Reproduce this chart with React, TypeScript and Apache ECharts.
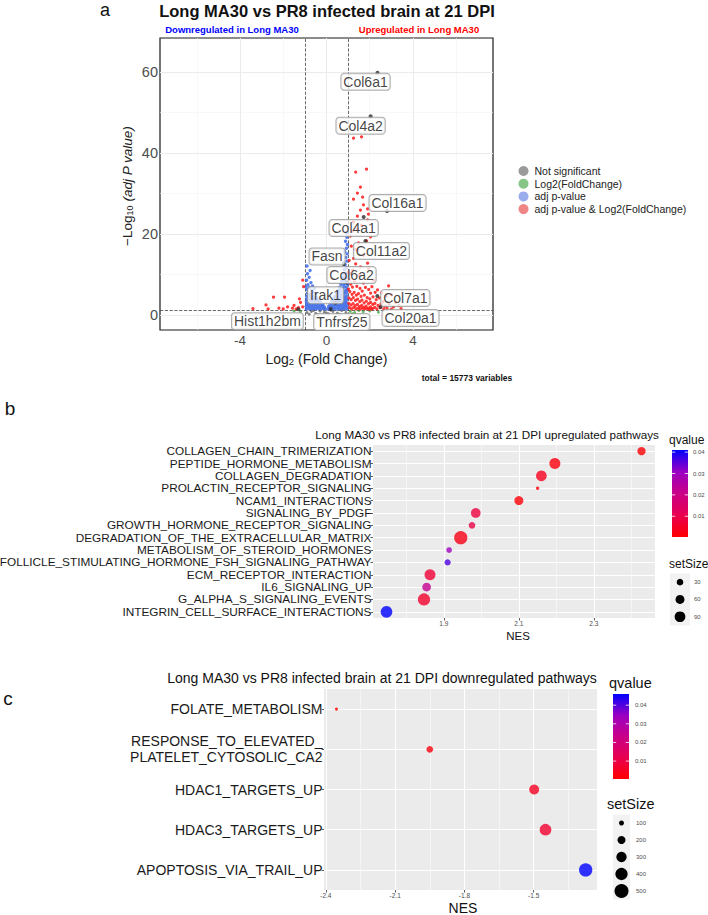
import React, { useEffect, useRef } from 'react';
import * as echarts from 'echarts';

const FONT = '"Liberation Sans", Arial, Helvetica, sans-serif';

/* ---------------- a: volcano plot ---------------- */
const volcanoTitle = 'Long MA30 vs PR8 infected brain at 21 DPI';
const downText = 'Downregulated in Long MA30';
const upText = 'Upregulated in Long MA30';
const volcanoXTicks = [-4, 0, 4];
const volcanoXMinor = [-6, -2, 2, 6];
const volcanoYTicks = [0, 20, 40, 60];
const volcanoYMinor = [10, 30, 50];
const fcCutoff = 1;
const pCutoff = 0.05;
const totalVariables = 15773;

const groupNames = ['Not significant', 'Log2(FoldChange)', 'adj p-value', 'adj p-value & Log2(FoldChange)'];

// [log2 fold change, -log10 adj p]
const notSignificant = [
  [-0.9, 0.6], [-0.7, 0.9], [-0.5, 0.4], [-0.3, 1.0], [-0.1, 0.7], [0.1, 0.3], [0.3, 0.9], [0.5, 0.5],
  [0.7, 1.1], [0.9, 0.6], [-0.8, 0.2], [0.2, 1.2], [0.6, 0.2], [-0.4, 0.1], [-0.6, 1.1], [0.0, 0.5],
];
const foldChangeOnly = [
  [1.1, 0.9], [1.3, 0.6], [1.5, 1.1], [1.7, 0.8], [2.0, 1.0], [1.2, 0.3], [-1.2, 0.8], [-1.5, 1.0], [2.4, 0.7],
];
const adjPOnly = [
  [-0.93, 1.5], [-0.82, 1.6], [-0.71, 1.5], [-0.6, 1.6], [-0.49, 1.5], [-0.38, 1.6], [-0.27, 1.5], [-0.16, 1.6], [-0.07, 1.5],
  [-0.94, 2.1], [-0.83, 2.2], [-0.72, 2.1], [-0.61, 2.2], [-0.5, 2.1], [-0.39, 2.2], [-0.28, 2.1], [-0.18, 2.2], [-0.1, 2.0],
  [-0.92, 2.7], [-0.81, 2.8], [-0.7, 2.7], [-0.59, 2.8], [-0.48, 2.7], [-0.37, 2.8], [-0.26, 2.7], [-0.17, 2.6],
  [-0.93, 3.3], [-0.82, 3.4], [-0.71, 3.3], [-0.6, 3.4], [-0.49, 3.3], [-0.38, 3.4], [-0.28, 3.2],
  [-0.91, 3.9], [-0.8, 4.0], [-0.69, 3.9], [-0.57, 4.0], [-0.45, 3.9], [-0.35, 3.8],
  [-0.92, 4.6], [-0.83, 4.7], [-0.72, 4.5], [-0.6, 4.6], [-0.47, 4.4],
  [-0.88, 5.4], [-0.75, 5.2], [-0.62, 5.6], [-0.84, 4.9], [-0.5, 5.3], [-0.9, 6.3], [-0.8, 6.8], [-0.68, 6.1],
  [-0.55, 6.6], [-0.95, 7.0], [-0.65, 7.2], [-0.86, 7.5], [-0.72, 8.0], [-0.92, 8.6], [-0.8, 9.3], [-0.88, 10.2],
  [-0.76, 11.0], [-0.9, 12.1],
  [0.06, 1.5], [0.15, 1.6], [0.26, 1.5], [0.37, 1.6], [0.48, 1.5], [0.59, 1.6], [0.7, 1.5], [0.81, 1.6], [0.92, 1.5],
  [0.1, 2.1], [0.2, 2.2], [0.31, 2.1], [0.42, 2.2], [0.53, 2.1], [0.64, 2.2], [0.75, 2.1], [0.86, 2.2], [0.95, 2.1],
  [0.16, 2.7], [0.27, 2.8], [0.38, 2.7], [0.49, 2.8], [0.6, 2.7], [0.71, 2.8], [0.82, 2.7], [0.93, 2.8],
  [0.24, 3.3], [0.35, 3.4], [0.46, 3.3], [0.57, 3.4], [0.68, 3.3], [0.79, 3.4], [0.9, 3.3],
  [0.3, 3.9], [0.41, 4.0], [0.52, 3.9], [0.63, 4.0], [0.74, 3.9], [0.85, 4.0], [0.95, 3.9],
  [0.38, 4.6], [0.5, 4.5], [0.62, 4.7], [0.73, 4.6], [0.84, 4.5], [0.94, 4.7],
  [0.45, 5.3], [0.58, 5.4], [0.7, 5.2], [0.81, 5.3], [0.92, 5.4],
  [0.52, 6.0], [0.64, 6.1], [0.76, 5.9], [0.87, 6.0], [0.96, 6.1],
  [0.6, 6.8], [0.72, 6.7], [0.83, 6.9], [0.93, 6.8],
  [0.66, 7.6], [0.78, 7.5], [0.88, 7.7], [0.97, 7.6],
  [0.7, 8.4], [0.81, 8.5], [0.92, 8.3],
  [0.74, 9.3], [0.85, 9.2], [0.95, 9.4],
  [0.78, 10.2], [0.88, 10.1], [0.97, 10.3],
  [0.82, 11.2], [0.93, 11.6], [0.86, 12.4], [0.95, 13.3], [0.8, 13.0], [0.9, 14.2], [0.96, 15.1],
  [0.85, 15.6], [0.92, 16.5], [0.97, 17.4], [0.88, 18.2], [0.94, 19.2], [0.91, 20.3],
];
const adjPAndFoldChange = [
  [1.25, 43.7], [1.62, 44.0], [1.85, 36.0], [1.35, 35.3], [1.57, 31.6], [1.43, 30.1], [1.67, 29.1], [1.25, 28.6],
  [1.71, 27.2], [1.9, 26.2], [1.57, 25.9], [1.94, 24.9], [1.43, 24.4], [1.25, 23.0], [1.62, 22.2], [1.9, 23.5],
  [1.43, 21.2], [1.2, 20.7], [2.04, 19.3], [1.85, 18.3], [1.48, 17.8], [1.1, 19.5], [1.15, 17.0], [1.3, 16.2],
  [1.71, 14.8], [1.43, 16.0], [1.25, 14.0], [1.9, 12.8], [1.57, 11.9], [1.94, 11.6], [1.2, 11.1], [1.05, 13.5],
  [1.35, 12.6], [1.1, 10.2], [1.5, 9.8], [2.18, 8.6], [1.71, 7.9], [2.87, 7.2], [2.36, 6.2], [2.04, 5.4],
  [1.05, 8.8], [1.12, 7.6], [1.2, 6.9], [1.3, 8.2], [1.4, 7.1], [1.55, 6.6], [1.65, 5.9], [1.8, 6.8], [1.95, 6.3],
  [2.1, 7.0], [2.25, 5.6], [1.08, 5.8], [1.18, 5.1], [1.28, 5.6], [1.38, 4.9], [1.48, 5.3], [1.6, 4.6], [1.75, 4.9],
  [1.88, 4.3], [2.0, 4.0], [2.15, 4.5], [2.3, 3.8], [2.45, 4.2], [2.6, 3.3], [1.04, 4.2], [1.14, 3.8], [1.24, 4.3],
  [1.34, 3.6], [1.44, 3.9], [1.54, 3.3], [1.64, 3.7], [1.74, 3.0], [1.84, 3.4], [1.94, 2.8], [2.04, 3.1], [2.14, 2.6],
  [2.24, 2.9], [2.38, 2.4], [2.52, 2.7], [2.7, 2.2], [2.9, 2.6], [3.1, 2.0], [3.35, 2.3], [1.03, 2.9], [1.13, 2.5],
  [1.23, 2.8], [1.33, 2.3], [1.43, 2.6], [1.53, 2.1], [1.63, 2.4], [1.73, 1.9], [1.83, 2.2], [1.93, 1.7], [2.03, 2.0],
  [2.13, 1.6], [2.23, 1.9], [2.33, 1.5], [2.48, 1.8], [2.65, 1.5], [2.8, 1.7], [3.0, 1.45], [1.06, 1.8], [1.16, 1.5],
  [1.26, 1.9], [1.36, 1.5], [1.46, 1.7], [1.56, 1.45], [1.66, 1.7], [1.76, 1.5], [1.86, 1.6], [1.98, 1.4], [2.08, 1.5],
  [3.2, 3.1], [2.75, 4.6], [3.45, 1.6], [2.55, 5.5], [1.02, 6.4], [1.0, 10.5], [3.0, 5.0],
  [-1.1, 8.6], [-1.06, 7.0], [-1.94, 4.4], [-2.45, 4.4], [-2.8, 2.5], [-2.7, 1.5], [-2.2, 1.7], [-1.8, 2.0],
  [-1.57, 1.7], [-1.1, 2.0], [-1.3, 1.8], [-1.5, 2.4], [-2.0, 1.5], [-1.2, 3.1], [-1.4, 1.5], [-3.4, 1.6], [-1.25, 4.0],
];

const geneNames = ['Col6a1', 'Col4a2', 'Col16a1', 'Col4a1', 'Col11a2', 'Fasn', 'Col6a2', 'Irak1', 'Col7a1', 'Col20a1', 'Tnfrsf25', 'Hist1h2bm'];
const geneLog2FC = [2.36, 2.04, 2.8, 1.72, 1.8, 0.79, 0.95, 0.42, 2.35, 2.5, 0.2, -1.3];
const geneNegLog10P = [59.8, 49.1, 25.7, 24.2, 18.3, 12.6, 8.0, 3.0, 4.7, 2.0, 1.5, 1.4];

/* ---------------- b: upregulated pathways ---------------- */
const upTitle = 'Long MA30 vs PR8 infected brain at 21 DPI upregulated pathways';
const upPathways = [
  'COLLAGEN_CHAIN_TRIMERIZATION', 'PEPTIDE_HORMONE_METABOLISM', 'COLLAGEN_DEGRADATION', 'PROLACTIN_RECEPTOR_SIGNALING',
  'NCAM1_INTERACTIONS', 'SIGNALING_BY_PDGF', 'GROWTH_HORMONE_RECEPTOR_SIGNALING', 'DEGRADATION_OF_THE_EXTRACELLULAR_MATRIX',
  'METABOLISM_OF_STEROID_HORMONES', 'FOLLICLE_STIMULATING_HORMONE_FSH_SIGNALING_PATHWAY', 'ECM_RECEPTOR_INTERACTION',
  'IL6_SIGNALING_UP', 'G_ALPHA_S_SIGNALING_EVENTS', 'INTEGRIN_CELL_SURFACE_INTERACTIONS',
];
const upNES = [2.427, 2.196, 2.16, 2.15, 2.1, 1.985, 1.975, 1.945, 1.914, 1.91, 1.863, 1.854, 1.847, 1.747];
const upQvalue = [0.001, 0.002, 0.004, 0.002, 0.001, 0.008, 0.009, 0.003, 0.03, 0.036, 0.007, 0.022, 0.006, 0.041];
const upSetSize = [50, 96, 90, 5, 61, 72, 30, 146, 20, 26, 96, 56, 123, 110];
const upNESTicks = [1.9, 2.1, 2.3];
const upNESMinor = [1.8, 2.0, 2.2, 2.4];
const upSizeBreaks = [30, 60, 90];

/* ---------------- c: downregulated pathways ---------------- */
const downTitle = 'Long MA30 vs PR8 infected brain at 21 DPI downregulated pathways';
const downPathways = ['FOLATE_METABOLISM', 'RESPONSE_TO_ELEVATED_PLATELET_CYTOSOLIC_CA2', 'HDAC1_TARGETS_UP', 'HDAC3_TARGETS_UP', 'APOPTOSIS_VIA_TRAIL_UP'];
const downNES = [-2.354, -1.95, -1.498, -1.449, -1.275];
const downQvalue = [0.0005, 0.002, 0.005, 0.007, 0.046];
const downSetSize = [55, 152, 284, 369, 458];
const downNESTicks = [-2.4, -2.1, -1.8, -1.5];
const downNESMinor = [-2.25, -1.95, -1.65, -1.35];
const downSizeBreaks = [100, 200, 300, 400, 500];

const qTicks = [0.01, 0.02, 0.03, 0.04];
const qColors = ['#FF0000', '#E80050', '#C90088', '#9A00C2', '#0000FF'];

/* ---------------- layout ---------------- */
const gridA = { left: 160, top: 38, width: 333, height: 292 };
const gridB = { left: 373, top: 445, width: 282, height: 173 };
const gridC = { left: 324, top: 689, width: 273, height: 201 };
const labelOffsets: Record<string, number[]> = {
  Col6a1: [-12, 9], Col4a2: [-10, 9.5], Col16a1: [10.5, -8], Col4a1: [-10, 11], Col11a2: [16, 10],
  Fasn: [-16.5, -7.5], Col6a2: [4.5, -7.5], Irak1: [-10, -7.5], Col7a1: [28, 2], Col20a1: [30, 11],
  Tnfrsf25: [11, 13], Hist1h2bm: [-31, 12],
};

const sizeUp = (s: number) => 1.2 + Math.sqrt(s);
const sizeDown = (s: number) => 0.728 * Math.sqrt(s) - 2.28;

const lineItems = (axis: string, values: number[], color: string, width: number, type = 'solid') =>
  values.map((v) => ({ [axis]: v, lineStyle: { color, width, type } }));

const markLines = (data: any[], z: number) => ({
  silent: true,
  symbol: ['none', 'none'],
  label: { show: false },
  emphasis: { disabled: true },
  animation: false,
  z,
  data,
});

function colorBar(x: number, y: number, w: number, h: number, qMin: number, qMax: number, labelX: number, fs: number) {
  const stops = qColors.map((c, i) => ({ offset: 1 - i / (qColors.length - 1), color: c }));
  const els: any[] = [
    {
      type: 'rect', shape: { x, y, width: w, height: h },
      style: { fill: new echarts.graphic.LinearGradient(0, 0, 0, 1, stops.reverse()) },
    },
  ];
  qTicks.forEach((q) => {
    const ty = y + ((qMax - q) / (qMax - qMin)) * h;
    els.push({ type: 'line', shape: { x1: x, y1: ty, x2: x + w * 0.2, y2: ty }, style: { stroke: '#fff', lineWidth: 0.8 } });
    els.push({ type: 'line', shape: { x1: x + w * 0.8, y1: ty, x2: x + w, y2: ty }, style: { stroke: '#fff', lineWidth: 0.8 } });
    els.push({
      type: 'text', x: labelX, y: ty,
      style: { text: q.toFixed(2), fontSize: fs, fontFamily: FONT, fill: '#4d4d4d', align: 'left', verticalAlign: 'middle' },
    });
  });
  return els;
}

function sizeLegend(x: number, top: number, w: number, keyH: number, breaks: number[], sizeFn: (s: number) => number, labelX: number, fs: number) {
  const els: any[] = [
    { type: 'rect', shape: { x, y: top, width: w, height: keyH * breaks.length }, style: { fill: '#F2F2F2' } },
  ];
  breaks.forEach((b, i) => {
    const cy = top + keyH * (i + 0.5);
    els.push({ type: 'circle', shape: { cx: x + w / 2, cy, r: sizeFn(b) / 2 }, style: { fill: '#000' } });
    els.push({
      type: 'text', x: labelX, y: cy,
      style: { text: String(b), fontSize: fs, fontFamily: FONT, fill: '#4d4d4d', align: 'left', verticalAlign: 'middle' },
    });
  });
  return els;
}

const txt = (x: number, y: number, text: string, extra: any = {}) => ({
  type: 'text', x, y,
  style: { text, fontFamily: FONT, fill: '#111', align: 'center', verticalAlign: 'middle', fontSize: 12, ...extra },
});

function buildOption() {
  const negLogCut = -Math.log10(pCutoff);
  const volcanoGrid = lineItems('xAxis', volcanoXTicks, '#EBEBEB', 1)
    .concat(lineItems('xAxis', volcanoXMinor, '#F4F4F4', 0.6))
    .concat(lineItems('yAxis', volcanoYTicks, '#EBEBEB', 1))
    .concat(lineItems('yAxis', volcanoYMinor, '#F4F4F4', 0.6));
  const cutoffs = lineItems('xAxis', [-fcCutoff, fcCutoff], '#444', 0.8, 'dashed')
    .concat(lineItems('yAxis', [negLogCut], '#444', 0.8, 'dashed'));

  const upGrid = lineItems('xAxis', upNESTicks, '#fff', 1)
    .concat(lineItems('xAxis', upNESMinor, '#fff', 0.5))
    .concat(lineItems('yAxis', upPathways.map((_, i) => i), '#fff', 1));
  const downGrid = lineItems('xAxis', downNESTicks, '#fff', 1)
    .concat(lineItems('xAxis', downNESMinor, '#fff', 0.5))
    .concat(lineItems('yAxis', downPathways.map((_, i) => i), '#fff', 1));

  const catAxis = (idx: number, data: string[], fs: number, lh: number, formatter?: any) => ({
    type: 'category', gridIndex: idx, data, inverse: true, boundaryGap: true,
    axisLine: { show: false },
    axisTick: { show: true, alignWithLabel: true, interval: 0, length: 2.5, lineStyle: { color: '#333', width: 0.8 } },
    axisLabel: { interval: 0, fontSize: fs, lineHeight: lh, color: '#1a1a1a', fontFamily: FONT, margin: 1.5, formatter, hideOverlap: false },
    splitLine: { show: false },
  });
  const nesAxis = (idx: number, min: number, max: number, ticks: number[]) => ({
    type: 'value', gridIndex: idx, min, max,
    axisLine: { show: false },
    axisTick: { show: true, customValues: ticks, length: 2.5, lineStyle: { color: '#333', width: 0.8 } },
    axisLabel: { customValues: ticks, fontSize: 6.5, color: '#4d4d4d', fontFamily: FONT, margin: 2, formatter: (v: number) => v.toFixed(1) },
    splitLine: { show: false },
  });

  const pointLabel = (name: string) => ({
    show: true,
    position: 'inside',
    offset: labelOffsets[name],
    formatter: name,
    fontSize: 14,
    lineHeight: 14,
    fontFamily: FONT,
    color: '#111',
    backgroundColor: 'rgba(255,255,255,0.92)',
    borderColor: '#9a9a9a',
    borderWidth: 1,
    borderRadius: 3,
    padding: [1, 2, 1, 2],
  });

  const upData = upPathways.map((p, i) => [upNES[i], i, upQvalue[i], upSetSize[i]]);
  const downData = downPathways.map((p, i) => [downNES[i], i, downQvalue[i], downSetSize[i]]);

  const graphic: any[] = [
    txt(105, 10, 'a', { fontSize: 18 }),
    txt(327, 11, volcanoTitle, { fontSize: 16.5, fontWeight: 'bold' }),
    txt(232, 29, downText, { fontSize: 9.5, fontWeight: 'bold', fill: '#0000FF' }),
    txt(419, 29, upText, { fontSize: 9.5, fontWeight: 'bold', fill: '#FF0000' }),
    {
      type: 'text', x: 127.5, y: 186, rotation: Math.PI / 2,
      style: {
        text: '{n|−Log}{s|10}{i| (adj P value)}', align: 'center', verticalAlign: 'middle', fill: '#222',
        fontFamily: FONT, fontSize: 13.5,
        rich: {
          n: { fontSize: 13.5, fontFamily: FONT, fill: '#222' },
          s: { fontSize: 9, fontFamily: FONT, fill: '#222', verticalAlign: 'bottom' },
          i: { fontSize: 13.5, fontFamily: FONT, fill: '#222', fontStyle: 'italic' },
        },
      },
    },
    {
      type: 'text', x: 326.5, y: 359,
      style: {
        text: '{n|Log}{s|2}{n| (Fold Change)}', align: 'center', verticalAlign: 'middle', fill: '#222',
        fontFamily: FONT, fontSize: 14,
        rich: {
          n: { fontSize: 14, fontFamily: FONT, fill: '#222' },
          s: { fontSize: 9.5, fontFamily: FONT, fill: '#222', verticalAlign: 'bottom' },
        },
      },
    },
    txt(467, 378, `total = ${totalVariables} variables`, { fontSize: 8.5, fontWeight: 'bold' }),

    txt(10, 408, 'b', { fontSize: 19 }),
    txt(487, 434, upTitle, { fontSize: 11.7 }),
    txt(518, 636, 'NES', { fontSize: 11.5 }),
    txt(669, 440, 'qvalue', { fontSize: 12, align: 'left' }),
    ...colorBar(672, 450, 16, 87, 0.0003, 0.041, 693, 6),
    txt(669, 564, 'setSize', { fontSize: 12, align: 'left' }),
    ...sizeLegend(670, 573.5, 20, 17.3, upSizeBreaks, sizeUp, 694, 6),

    txt(8, 698, 'c', { fontSize: 19 }),
    txt(382, 678, downTitle, { fontSize: 14 }),
    txt(463, 908, 'NES', { fontSize: 14 }),
    txt(609, 683, 'qvalue', { fontSize: 14.5, align: 'left' }),
    ...colorBar(613, 694, 16, 85, 0.0004, 0.046, 635, 6),
    txt(607, 804, 'setSize', { fontSize: 14.5, align: 'left' }),
    ...sizeLegend(613, 814.5, 17, 17, downSizeBreaks, sizeDown, 636, 6),
  ];

  const gridBase = { show: true, containLabel: false, outerBoundsMode: 'none' };

  return {
    animation: false,
    backgroundColor: '#fff',
    textStyle: { fontFamily: FONT },
    grid: [
      { ...gridA, ...gridBase, backgroundColor: '#fff', borderColor: '#1a1a1a', borderWidth: 1.2 },
      { ...gridB, ...gridBase, backgroundColor: '#EBEBEB', borderWidth: 0 },
      { ...gridC, ...gridBase, backgroundColor: '#EBEBEB', borderWidth: 0 },
    ],
    xAxis: [
      {
        type: 'value', gridIndex: 0, min: -7.7, max: 7.7,
        axisLine: { show: false },
        axisTick: { show: true, customValues: volcanoXTicks, length: 3, lineStyle: { color: '#333' } },
        axisLabel: { customValues: volcanoXTicks, fontSize: 13.5, color: '#4d4d4d', fontFamily: FONT, margin: 3 },
        splitLine: { show: false },
      },
      nesAxis(1, 1.711, 2.463, upNESTicks),
      nesAxis(2, -2.408, -1.226, downNESTicks),
    ],
    yAxis: [
      {
        type: 'value', gridIndex: 0, min: -3.7, max: 68.4,
        axisLine: { show: false },
        axisTick: { show: true, customValues: volcanoYTicks, length: 3, lineStyle: { color: '#333' } },
        axisLabel: { customValues: volcanoYTicks, fontSize: 14.5, color: '#4d4d4d', fontFamily: FONT, margin: 2 },
        splitLine: { show: false },
      },
      catAxis(1, upPathways, 11.8, 12),
      catAxis(2, downPathways, 14, 16, (v: string) => (v.length > 30 ? v.slice(0, 21) + '\n' + v.slice(21) : v)),
    ],
    legend: {
      orient: 'vertical', left: 513.5, top: 160, itemWidth: 10, itemHeight: 10, itemGap: 0.7, icon: 'circle',
      selectedMode: false,
      textStyle: { fontSize: 10.5, lineHeight: 12, color: '#222', fontFamily: FONT, padding: [0, 0, 0, 1] },
      data: [
        { name: groupNames[0], itemStyle: { color: '#9A9A9A', opacity: 1 } },
        { name: groupNames[1], itemStyle: { color: '#86C586', opacity: 1 } },
        { name: groupNames[2], itemStyle: { color: '#98ACEE', opacity: 1 } },
        { name: groupNames[3], itemStyle: { color: '#F08585', opacity: 1 } },
      ],
    },
    visualMap: [
      { type: 'continuous', show: false, seriesIndex: 6, dimension: 2, min: 0.0003, max: 0.041, inRange: { color: qColors } },
      { type: 'continuous', show: false, seriesIndex: 8, dimension: 2, min: 0.0004, max: 0.046, inRange: { color: qColors } },
    ],
    graphic,
    series: [
      { type: 'scatter', name: groupNames[0], xAxisIndex: 0, yAxisIndex: 0, data: notSignificant, symbolSize: 3, itemStyle: { color: '#555', opacity: 0.7 }, z: 2 },
      { type: 'scatter', name: groupNames[1], xAxisIndex: 0, yAxisIndex: 0, data: foldChangeOnly, symbolSize: 3, itemStyle: { color: '#2e9e2e', opacity: 0.7 }, z: 2 },
      { type: 'scatter', name: groupNames[2], xAxisIndex: 0, yAxisIndex: 0, data: adjPOnly, symbolSize: 3.4, itemStyle: { color: '#3C6AE6', opacity: 0.85 }, z: 2 },
      { type: 'scatter', name: groupNames[3], xAxisIndex: 0, yAxisIndex: 0, data: adjPAndFoldChange, symbolSize: 3.2, itemStyle: { color: '#FF1A1A', opacity: 0.85 }, z: 2 },
      {
        type: 'scatter', name: 'gridA', xAxisIndex: 0, yAxisIndex: 0, data: [], silent: true, z: 1,
        markLine: markLines(volcanoGrid.concat(cutoffs), 1),
      },
      {
        type: 'scatter', name: 'genes', xAxisIndex: 0, yAxisIndex: 0, z: 4, symbolSize: 4,
        itemStyle: { color: '#2b2b2b' },
        data: geneNames.map((g, i) => ({ name: g, value: [geneLog2FC[i], geneNegLog10P[i]], label: pointLabel(g) })),
      },
      {
        type: 'scatter', name: 'NES up', xAxisIndex: 1, yAxisIndex: 1, data: upData, z: 3,
        symbolSize: (v: number[]) => sizeUp(v[3]),
      },
      {
        type: 'scatter', name: 'gridB', xAxisIndex: 1, yAxisIndex: 1, data: [], silent: true, z: 1,
        markLine: markLines(upGrid, 1),
      },
      {
        type: 'scatter', name: 'NES down', xAxisIndex: 2, yAxisIndex: 2, data: downData, z: 3,
        symbolSize: (v: number[]) => sizeDown(v[3]),
      },
      {
        type: 'scatter', name: 'gridC', xAxisIndex: 2, yAxisIndex: 2, data: [], silent: true, z: 1,
        markLine: markLines(downGrid, 1),
      },
    ],
  };
}

export default function App() {
  const ref = useRef<HTMLDivElement>(null);
  useEffect(() => {
    if (!ref.current) return;
    const chart = echarts.init(ref.current, undefined, { renderer: 'svg' });
    chart.setOption(buildOption() as any);
    return () => chart.dispose();
  }, []);
  return (
    <div
      ref={ref}
      style={{ position: 'fixed', left: 0, top: 0, width: 708, height: 915, background: '#fff' }}
    />
  );
}
